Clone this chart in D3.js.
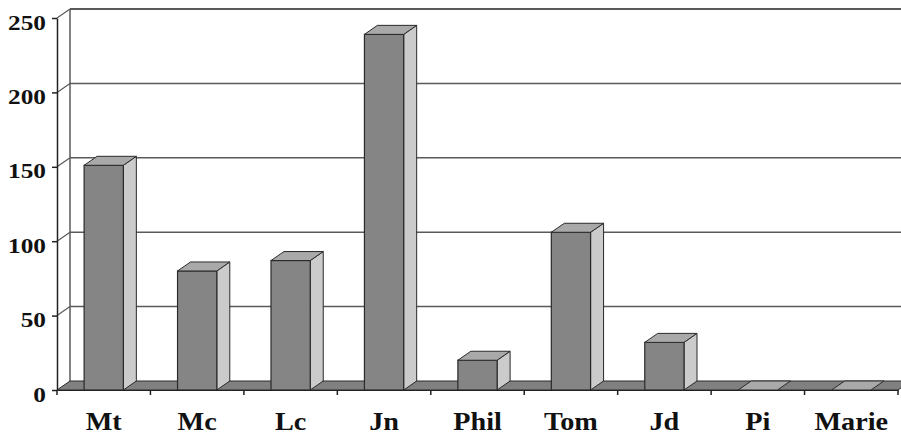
<!DOCTYPE html>
<html>
<head>
<meta charset="utf-8">
<script src="https://cdn.jsdelivr.net/npm/d3@7"></script>
<style>
  html, body { margin: 0; padding: 0; background: #fff; }
  svg { display: block; }
</style>
</head>
<body>
<svg id="chart" width="901" height="435"></svg>
<script>
// Counts per book
const categories = ["Mt", "Mc", "Lc", "Jn", "Phil", "Tom", "Jd", "Pi", "Marie"];
const values = [151, 80, 87, 239, 20, 106, 32, 0, 0];
const yTicks = [0, 50, 100, 150, 200, 250];

const W = 901, H = 435;
const left = 57, right = 898, floorY = 390, topY = 18;
const depthX = 13, depthY = -9;   // oblique offset of the back wall
const serif = '"Liberation Serif", "Times New Roman", Times, serif';

const svg = d3.select("#chart");

const x = d3.scaleBand().domain(categories).range([left, right]).padding(0);
const y = d3.scaleLinear().domain([0, 250]).range([floorY, topY]);
const barW = x.bandwidth() * 0.42;

const colFront = "#858585", colTop = "#a9a9a9", colSide = "#cbcbcb", colFloor = "#808080";
const outline = "#2a2a2a", gridCol = "#5a5a5a";

const poly = pts => pts.map(p => p.join(",")).join(" ");

// back wall gridlines and outline
const wall = svg.append("g");
yTicks.filter(v => v > 0).forEach(v => {
  const yb = y(v) + depthY;
  wall.append("line")
    .attr("x1", left + depthX).attr("x2", W + 20)
    .attr("y1", yb).attr("y2", yb)
    .attr("stroke", gridCol).attr("stroke-width", v === 250 ? 2 : 1.5);
  // side wall diagonal
  wall.append("line")
    .attr("x1", left).attr("y1", y(v))
    .attr("x2", left + depthX).attr("y2", yb)
    .attr("stroke", gridCol).attr("stroke-width", 1.2);
});
wall.append("line")
  .attr("x1", left + depthX).attr("x2", left + depthX)
  .attr("y1", y(250) + depthY).attr("y2", floorY + depthY)
  .attr("stroke", gridCol).attr("stroke-width", 1.5);

// floor
svg.append("polygon")
  .attr("points", poly([[left, floorY], [right, floorY], [right + depthX, floorY + depthY], [left + depthX, floorY + depthY]]))
  .attr("fill", colFloor).attr("stroke", outline).attr("stroke-width", 1);

// bars
const bars = svg.append("g").selectAll("g").data(categories.map((c, i) => ({ c, v: values[i] }))).join("g");
bars.each(function (d) {
  const g = d3.select(this);
  const x0 = x(d.c) + (x.bandwidth() - barW) / 2, x1 = x0 + barW;
  const yt = y(d.v);
  if (d.v > 0) {
    g.append("polygon")
      .attr("points", poly([[x1, floorY], [x1, yt], [x1 + depthX, yt + depthY], [x1 + depthX, floorY + depthY]]))
      .attr("fill", colSide).attr("stroke", outline).attr("stroke-width", 1).attr("stroke-linejoin", "round");
    g.append("rect")
      .attr("x", x0).attr("y", yt).attr("width", barW).attr("height", floorY - yt)
      .attr("fill", colFront).attr("stroke", outline).attr("stroke-width", 1.2);
  }
  g.append("polygon")
    .attr("points", poly([[x0, yt], [x1, yt], [x1 + depthX, yt + depthY], [x0 + depthX, yt + depthY]]))
    .attr("fill", colTop).attr("stroke", outline).attr("stroke-width", 1).attr("stroke-linejoin", "round");
});

// value axis
const yAxis = svg.append("g")
  .attr("transform", `translate(${left},0)`)
  .call(d3.axisLeft(y).tickValues(yTicks).tickSize(5).tickSizeOuter(0));
yAxis.select(".domain").attr("stroke", "#222").attr("stroke-width", 1.5);
yAxis.selectAll(".tick line").attr("stroke", "#222").attr("stroke-width", 1.5);
yAxis.selectAll(".tick text")
  .attr("x", 0).attr("dy", "0.5em")
  .attr("transform", "translate(-11,0) scale(1.15,1)")
  .style("font-family", serif).style("font-weight", "bold").style("font-size", "22px")
  .attr("fill", "#111");

// category axis
const xAxis = svg.append("g")
  .attr("transform", `translate(0,${floorY})`)
  .call(d3.axisBottom(x).tickSize(0).tickSizeOuter(0));
xAxis.select(".domain").attr("stroke", "#222").attr("stroke-width", 1.2);
xAxis.selectAll(".tick text")
  .attr("y", 40).attr("dy", 0)
  .attr("transform", "scale(1.13,1)")
  .style("font-family", serif).style("font-weight", "bold").style("font-size", "25px")
  .attr("fill", "#111");

// tick marks between categories
const bounds = categories.map(c => x(c)).concat([right]);
svg.append("g").selectAll("line").data(bounds).join("line")
  .attr("x1", d => d).attr("x2", d => d)
  .attr("y1", floorY).attr("y2", floorY + 5)
  .attr("stroke", "#222").attr("stroke-width", 1.5);
</script>
</body>
</html>
